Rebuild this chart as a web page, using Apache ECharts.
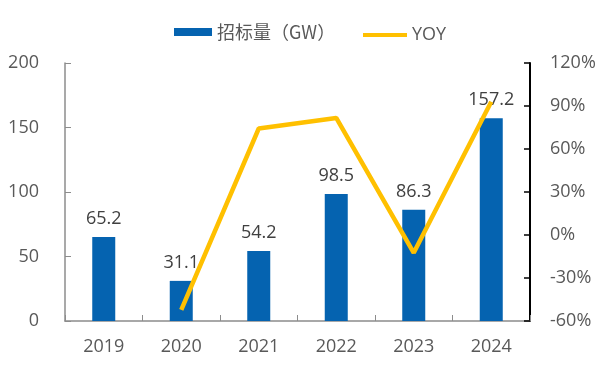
<!DOCTYPE html>
<html><head><meta charset="utf-8">
<script src="https://cdn.jsdelivr.net/npm/echarts@6/dist/echarts.min.js"></script>
<style>html,body{margin:0;padding:0;background:#fff}#c{width:604px;height:373px}</style>
</head><body><div id="c"></div>
<script>
const categories = ['2019','2020','2021','2022','2023','2024'];
const bidVolume = [65.2, 31.1, 54.2, 98.5, 86.3, 157.2];
const yoy = [null, -52.3, 74.3, 81.7, -12.4, 93];
const leftTicks = {min:0, max:200, interval:50};
const rightTicks = {min:-60, max:120, interval:30};

const font = '"Open Sans", "Noto Sans CJK SC", sans-serif';
const cjk = '"Noto Sans CJK SC", sans-serif';
const chart = echarts.init(document.getElementById('c'));
chart.setOption({
  animation:false,
  textStyle:{fontFamily:font},
  legend:[{
    top:18, left:169, itemWidth:38, itemHeight:8,
    textStyle:{fontSize:18, color:'#595959', fontFamily:cjk},
    data:[{name:'招标量（GW）', icon:'rect'}]
  },{
    top:21, left:358, itemWidth:44, itemHeight:4,
    textStyle:{fontSize:18, color:'#595959', fontFamily:font},
    data:[{name:'YOY', icon:'rect'}]
  }],
  grid:{left:65, right:74, top:63, bottom:52},
  xAxis:{
    type:'category', data:categories,
    axisLine:{lineStyle:{color:'#8c8c8c', width:1.5}},
    axisTick:{show:true, inside:true, length:6, alignWithLabel:false, lineStyle:{color:'#8c8c8c'}},
    axisLabel:{fontSize:18, color:'#595959', margin:17, fontFamily:font}
  },
  yAxis:[{
    type:'value', min:leftTicks.min, max:leftTicks.max, interval:leftTicks.interval,
    axisLine:{show:true, lineStyle:{color:'#8c8c8c', width:1.5}},
    axisTick:{show:true, inside:true, length:6, lineStyle:{color:'#8c8c8c'}},
    splitLine:{show:false},
    axisLabel:{fontSize:18, color:'#595959', margin:26, fontFamily:font}
  },{
    type:'value', min:rightTicks.min, max:rightTicks.max, interval:rightTicks.interval,
    position:'right',
    axisLine:{show:true, lineStyle:{color:'#000', width:2}},
    axisTick:{show:true, inside:true, length:6, lineStyle:{color:'#000', width:1.5}},
    splitLine:{show:false},
    axisLabel:{fontSize:18, color:'#595959', margin:20, formatter:'{value}%', fontFamily:font}
  }],
  series:[{
    name:'招标量（GW）', type:'bar', data:bidVolume, barWidth:23, yAxisIndex:0,
    itemStyle:{color:'#0563B0'},
    label:{show:true, position:'top', distance:9, fontSize:18, color:'#404040', fontFamily:font}
  },{
    name:'YOY', type:'line', data:yoy, yAxisIndex:1, symbol:'none', z:5,
    lineStyle:{color:'#FFC000', width:4.5}, itemStyle:{color:'#FFC000'}
  }]
});
</script></body></html>
